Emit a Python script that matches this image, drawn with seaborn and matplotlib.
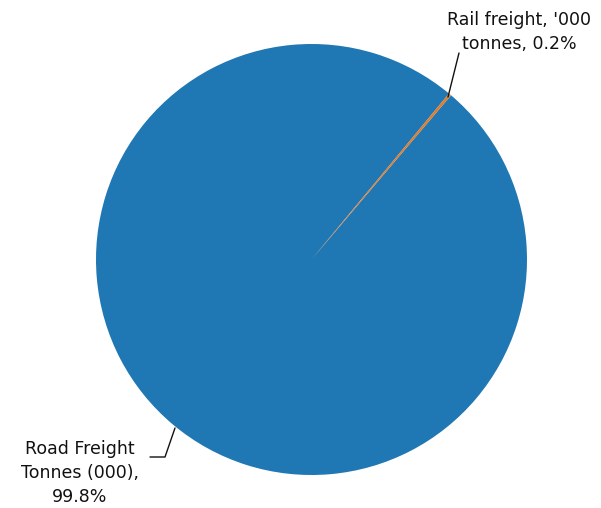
import matplotlib
matplotlib.use("Agg")
import matplotlib.pyplot as plt
import seaborn as sns

categories = ["Road Freight Tonnes (000)", "Rail freight, '000 tonnes"]
values = [99.8, 0.2]
label_texts = ["Road Freight\nTonnes (000),\n99.8%", "Rail freight, '000\ntonnes, 0.2%"]

sns.set_theme(style="white")
plt.rcParams['font.family'] = ['DejaVu Sans']
colors = ["#1f77b4", "#e07b2c"]

W, H = 601, 508
fig = plt.figure(figsize=(W / 100, H / 100), dpi=100)
ax = fig.add_axes([0, 0, 1, 1])

cx, cy, r = 311.5, H - 259.5, 215.5
wedges, _ = ax.pie(values, colors=colors, startangle=50.36, counterclock=True,
                   center=(cx, cy), radius=r, wedgeprops=dict(linewidth=0),
                   frame=True)
ax.set_xlim(0, W)
ax.set_ylim(0, H)
ax.set_aspect("equal")
ax.axis("off")

# Road label connector
ax.plot([175, 165, 150], [H - 428, H - 457, H - 457], color="#111111", lw=1)
ax.text(80, H - 473, label_texts[0], ha="center", va="center", fontsize=12.5,
        color="#111111", linespacing=1.45)
# Rail label connector
ax.plot([448, 459], [H - 97, H - 53], color="#111111", lw=1)
ax.text(519, H - 32, label_texts[1], ha="center", va="center", fontsize=12.5,
        color="#111111", linespacing=1.45)

fig.savefig("out.png", dpi=100)
